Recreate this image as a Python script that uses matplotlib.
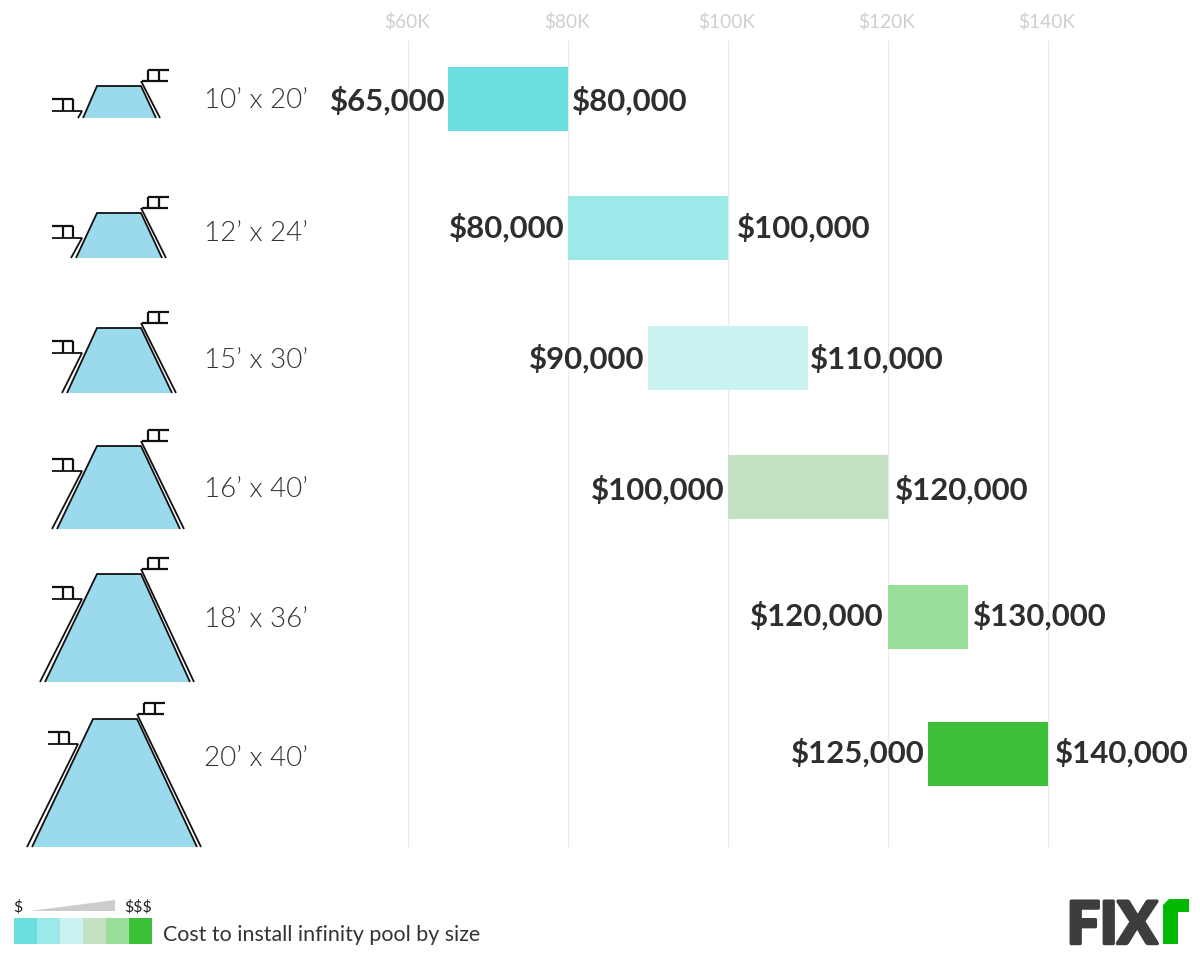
"""Infinity pool cost ranges by size, with pool icons drawn in pixel coordinates."""

import matplotlib

matplotlib.use("Agg")  # Non-interactive backend

import matplotlib.patheffects as path_effects
import matplotlib.pyplot as plt
from matplotlib.patches import Polygon, Rectangle

plt.rcParams["font.family"] = ["Lato", "DejaVu Sans"]

sizes = ["10’ x 20’", "12’ x 24’", "15’ x 30’", "16’ x 40’", "18’ x 36’", "20’ x 40’"]
cost_low = [65000, 80000, 90000, 100000, 120000, 125000]
cost_high = [80000, 100000, 110000, 120000, 130000, 140000]
tick_values = [60000, 80000, 100000, 120000, 140000]
tick_labels = ["$60K", "$80K", "$100K", "$120K", "$140K"]
bar_colors = ["#6ADFDF", "#9BE9E8", "#C9F2F1", "#C1E1C1", "#99DF99", "#3BC038"]

# layout, in pixels from the top of the image
ROW_Y = [99, 228, 357.5, 487, 616.5, 754]
BAR_HEIGHT = 64
LOW_PAD = [2, 3, 4, 3, 4, 3]
HIGH_PAD = [4, 9, 2, 7, 5, 7]
LABEL_Y = [101, 228, 359, 490, 616, 753]
SIZE_Y = [101, 233, 360, 489, 619, 758]

# top y, bottom y, top left, top right, bottom left, bottom right, left x shift
POOLS = [
    (86, 118, 97, 141, 83, 156, 0),
    (213, 258, 97, 141, 76, 162, 0),
    (328, 393, 97, 141, 67, 172, 0),
    (446, 529, 97, 141, 57, 180, 0),
    (574, 682, 97, 141, 45, 190, 0),
    (719, 847, 93, 137, 32, 197, -4),
]

WIDTH, HEIGHT = 1200, 955


def px_to_cost(x):
    """Convert an image x pixel to a value on the cost axis."""
    return 60000 + (x - 408) * 125


def line(ax, xs, ys, lw=1.6):
    ax.plot([px_to_cost(x) for x in xs], ys, color="#111111", lw=lw,
            solid_capstyle="butt", solid_joinstyle="miter", zorder=4)


def draw_pool(ax, top, bottom, tl, tr, bl, br, shift):
    """Draw one pool icon: water, rim lines and the two small decks."""
    corners = [(bl, bottom), (tl, top), (tr, top), (br, bottom)]
    ax.add_patch(Polygon([(px_to_cost(x), y) for x, y in corners],
                         facecolor="#9BDAEC", edgecolor="none", zorder=3))
    line(ax, [bl, tl, tr, br], [bottom, top, top, bottom], lw=1.3)

    # outer right wall and upper deck
    ladder_y = top - 5
    line(ax, [tr, br + 4], [ladder_y, bottom], lw=1.3)
    line(ax, [tr + 1, tr + 27], [ladder_y, ladder_y])
    line(ax, [tr + 7, tr + 28], [ladder_y - 11, ladder_y - 11])
    line(ax, [tr + 7, tr + 7], [ladder_y - 11, ladder_y])
    line(ax, [tr + 18, tr + 18], [ladder_y - 11, ladder_y])

    # outer left wall and lower deck
    deck_y = top + 25
    line(ax, [52 + shift, 82 + shift, bl - 5], [deck_y, deck_y, bottom], lw=1.3)
    line(ax, [52 + shift, 73 + shift], [deck_y - 12, deck_y - 12])
    line(ax, [63 + shift, 63 + shift], [deck_y - 12, deck_y])
    line(ax, [73 + shift, 73 + shift], [deck_y - 12, deck_y])


fig = plt.figure(figsize=(WIDTH / 100, HEIGHT / 100), dpi=100)
ax = fig.add_axes([0, 0, 1, 1])
ax.set_xlim(px_to_cost(0), px_to_cost(WIDTH))
ax.set_ylim(HEIGHT, 0)
ax.axis("off")

ax.vlines(tick_values, 40, 847, color="#EBEBEB", lw=1, zorder=1)
for value, label in zip(tick_values, tick_labels):
    ax.text(value - 125, 22, label, color="#CFCFCF", fontsize=13.8, ha="center", va="center")

ax.barh(ROW_Y, [h - l for l, h in zip(cost_low, cost_high)], left=cost_low,
        height=BAR_HEIGHT, color=bar_colors, zorder=2)

for i, size in enumerate(sizes):
    low_x = px_to_cost(408 + (cost_low[i] - 60000) / 125 - LOW_PAD[i])
    high_x = px_to_cost(408 + (cost_high[i] - 60000) / 125 + HIGH_PAD[i])
    ax.text(low_x, LABEL_Y[i], f"${cost_low[i]:,}", fontsize=22.4, fontweight="bold",
            color="#2E2E2E", ha="right", va="center")
    ax.text(high_x, LABEL_Y[i], f"${cost_high[i]:,}", fontsize=22.4, fontweight="bold",
            color="#2E2E2E", ha="left", va="center")
    ax.text(px_to_cost(204), SIZE_Y[i], size, fontsize=20, fontweight=300,
            color="#333333", ha="left", va="center")

for pool in POOLS:
    draw_pool(ax, *pool)

# colour key
for i, color in enumerate(bar_colors):
    ax.add_patch(Rectangle((px_to_cost(14 + i * 23), 918), 23 * 125, 26,
                           facecolor=color, edgecolor="none"))
ax.add_patch(Polygon([(px_to_cost(30), 911), (px_to_cost(115), 900), (px_to_cost(115), 911)],
                     facecolor="#CCCCCC", edgecolor="none"))
ax.text(px_to_cost(13), 907, "$", fontsize=11.5, color="#222222", ha="left", va="center")
ax.text(px_to_cost(152), 907, "$$$", fontsize=11.5, color="#222222", ha="right", va="center")
ax.text(px_to_cost(163), 933, "Cost to install infinity pool by size", fontsize=15.4,
        color="#333333", ha="left", va="center_baseline")

# logo
logo = ax.text(px_to_cost(1112), 922, "FIX", fontsize=42, fontweight=900, color="#3D3D3D",
               ha="center", va="center_baseline")
logo.set_path_effects([path_effects.withStroke(linewidth=2.5, foreground="#3D3D3D")])
ax.add_patch(Polygon([(px_to_cost(x), y) for x, y in
                      [(1163, 944), (1163, 905), (1169, 899), (1189, 899), (1189, 912),
                       (1178, 912), (1178, 944)]],
                     facecolor="#00B900", edgecolor="none"))

fig.savefig("out.png", dpi=100)
